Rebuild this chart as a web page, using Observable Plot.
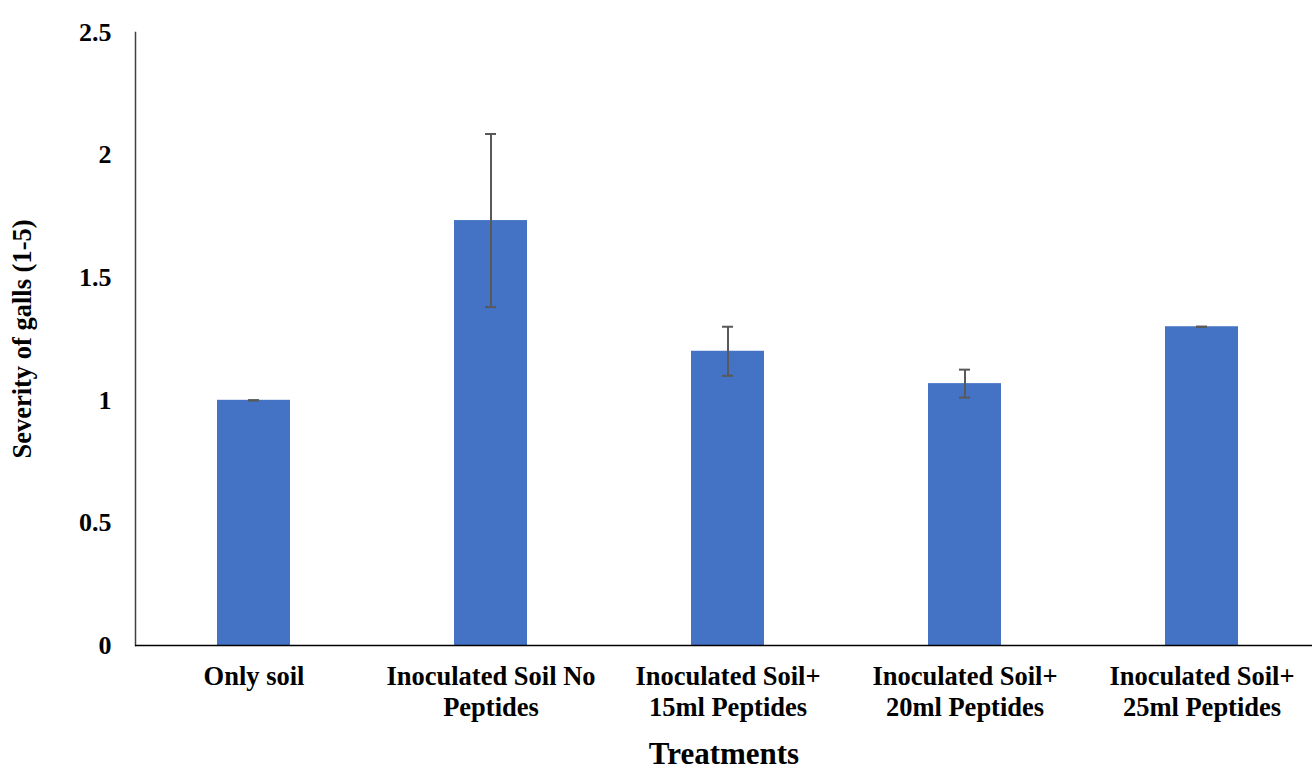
<!DOCTYPE html>
<html>
<head>
<meta charset="utf-8">
<script src="https://cdn.jsdelivr.net/npm/d3@7"></script>
<script src="https://cdn.jsdelivr.net/npm/@observablehq/plot@0.6"></script>
<style>
  html, body { margin: 0; padding: 0; background: #fff; }
  svg { display: block; }
</style>
</head>
<body>
<div id="chart"></div>
<script>
const categories = [
  "Only soil",
  "Inoculated Soil No\nPeptides",
  "Inoculated Soil+\n15ml Peptides",
  "Inoculated Soil+\n20ml Peptides",
  "Inoculated Soil+\n25ml Peptides"
];
const means = [1.0, 1.733, 1.2, 1.068, 1.3];
const errors = [0.0, 0.353, 0.1, 0.057, 0.0];
const yTicks = [0, 0.5, 1, 1.5, 2, 2.5];
const yTickLabels = ["0", "0.5", "1", "1.5", "2", "2.5"];

const data = categories.map((c, i) => ({
  cat: c, mean: means[i], lo: means[i] - errors[i], hi: means[i] + errors[i]
}));

const font = "'Liberation Serif', 'Times New Roman', serif";

const chart = Plot.plot({
  width: 1312,
  height: 773,
  marginLeft: 135,
  marginRight: 0,
  marginTop: 32,
  marginBottom: 128,
  style: { fontFamily: font, fontWeight: "bold", color: "#000", background: "#fff" },
  x: { domain: categories, range: [135, 1321], paddingInner: 0.69, paddingOuter: 0.345, label: null },
  y: { domain: [0, 2.5], label: null },
  marks: [
    Plot.barY(data, { x: "cat", y: "mean", fill: "#4472C4" }),
    Plot.ruleX(data, { x: "cat", y1: "lo", y2: "hi", stroke: "#595959", strokeWidth: 2 }),
    Plot.tickY(data, { x: "cat", y: "lo", stroke: "#595959", strokeWidth: 2, insetLeft: 31, insetRight: 31 }),
    Plot.tickY(data, { x: "cat", y: "hi", stroke: "#595959", strokeWidth: 2, insetLeft: 31, insetRight: 31 }),
    Plot.frame({ anchor: "left", stroke: "#404040", strokeWidth: 1.5 }),
    Plot.ruleY([0], { stroke: "#000", strokeWidth: 1.5 }),
    Plot.axisY({
      ticks: yTicks, tickFormat: (d) => yTickLabels[yTicks.indexOf(d)],
      tickSize: 0, tickPadding: 24, fontSize: 26, fontWeight: "bold", label: null
    }),
    Plot.axisX({
      tickSize: 0, tickPadding: 17, fontSize: 26.5, fontWeight: "bold", lineHeight: 1.18, label: null
    }),
    Plot.text(["Treatments"], {
      frameAnchor: "bottom", dy: 118, fontSize: 31, fontWeight: "bold", fill: "#000"
    }),
    Plot.text(["Severity of galls (1-5)"], {
      frameAnchor: "left", dx: -113, rotate: -90, textAnchor: "middle",
      fontSize: 26.5, fontWeight: "bold", fill: "#000"
    })
  ]
});

document.getElementById("chart").appendChild(chart);
</script>
</body>
</html>
